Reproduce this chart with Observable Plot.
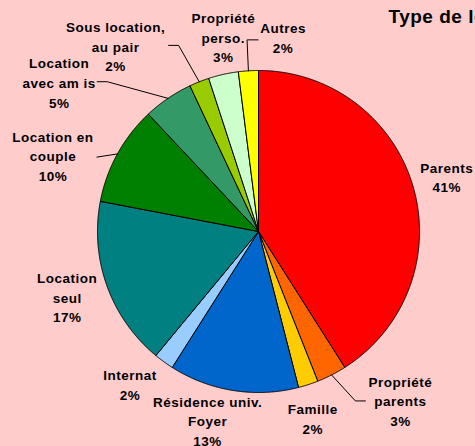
<!DOCTYPE html>
<html><head><meta charset="utf-8">
<script src="https://cdn.jsdelivr.net/npm/d3@7"></script>
<script src="https://cdn.jsdelivr.net/npm/@observablehq/plot@0.6"></script>
<style>
body{margin:0;background:#FFCCCC;}
#chart svg{display:block;}
</style>
</head><body><div id="chart"></div>
<script>
// ---- data ----
const categories = ["Parents","Propriété parents","Famille","Résidence univ. Foyer","Internat","Location seul","Location en couple","Location avec amis","Sous location, au pair","Propriété perso.","Autres"];
const labelLines = ["Parents","Propriété\nparents","Famille","Résidence univ.\nFoyer","Internat","Location\nseul","Location en\ncouple","Location\navec am is","Sous location,\nau pair","Propriété\nperso.","Autres"];
const shares = [41,3,2,13,2,17,10,5,2,3,2];
const percentLabels = ["41%","3%","2%","13%","2%","17%","10%","5%","2%","3%","2%"];
const colors = ["#FF0000","#FF6600","#FFCC00","#0066CC","#99CCFF","#008080","#008000","#339966","#99CC00","#CCFFCC","#FFFF00"];
const title = "Type de logement";

// ---- layout (pixels) ----
const W = 475, H = 446, CX = 258, CY = 231, RPX = 161;
const PX = 1 / RPX;
const labelRadius = 1.23;
// label nudges in pixels [dx, dy]
const labelNudge = [[-2,0],[52,-8],[-7,-2],[-20,-7],[-12,-8],[-5,-2],[-32,19],[-88,14],[-70,-2],[8,-2],[37,3]];
// leader lines: slice index -> points relative to label (pixels), after the slice edge
const leaderPts = {
  1: [[-45,1],[-35,1]],
  6: [[44,2]],
  7: [[48,0],[38,0]],
  8: [[63,0],[53,0]],
  10: [[-36,3],[-25,3]]
};

const arcs = d3.pie().sort(null).value(d => d)(shares);

// slice polygons
const polys = [];
arcs.forEach((a, i) => {
  polys.push({id: i, x: 0, y: 0, c: colors[i]});
  const n = Math.max(4, Math.ceil((a.endAngle - a.startAngle) / 0.004));
  for (let k = 0; k <= n; k++) {
    const t = a.startAngle + (a.endAngle - a.startAngle) * k / n;
    polys.push({id: i, x: Math.sin(t), y: Math.cos(t), c: colors[i]});
  }
  polys.push({id: i, x: 0, y: 0, c: colors[i]});
});

// labels
const labels = arcs.map((a, i) => {
  const m = (a.startAngle + a.endAngle) / 2;
  return {
    i,
    text: labelLines[i] + "\n" + percentLabels[i],
    x: labelRadius * Math.sin(m) + labelNudge[i][0] * PX,
    y: labelRadius * Math.cos(m) - labelNudge[i][1] * PX,
    m
  };
});

// leaders
const leaders = [];
Object.keys(leaderPts).forEach(k => {
  const i = +k, L = labels[i];
  leaders.push({id: i, x: Math.sin(L.m), y: Math.cos(L.m)});
  leaderPts[k].forEach(([dx, dy]) => leaders.push({id: i, x: L.x + dx * PX, y: L.y - dy * PX}));
});

const plot = Plot.plot({
  width: W, height: H,
  margin: 0,
  x: {domain: [-CX * PX, (W - CX) * PX], axis: null},
  y: {domain: [-(H - CY) * PX, CY * PX], axis: null},
  color: {type: "identity"},
  style: {background: "#FFCCCC", fontFamily: "'Liberation Sans', Arial, sans-serif", letterSpacing: "0.5px"},
  marks: [
    Plot.line(polys, {x: "x", y: "y", z: "id", fill: "c", stroke: "black", strokeWidth: 1, strokeLinejoin: "round"}),
    Plot.line(leaders, {x: "x", y: "y", z: "id", stroke: "black", strokeWidth: 1}),
    Plot.text(labels, {x: "x", y: "y", text: "text", fontSize: 13.5, fontWeight: "bold", lineHeight: 1.45, textAnchor: "middle", lineAnchor: "middle", fill: "black"}),
    Plot.text([title], {frameAnchor: "top-left", dx: 388, dy: 9, fontSize: 19, fontWeight: "bold", textAnchor: "start", lineAnchor: "top", fill: "black"})
  ]
});
document.getElementById("chart").appendChild(plot);
</script>
</body></html>
